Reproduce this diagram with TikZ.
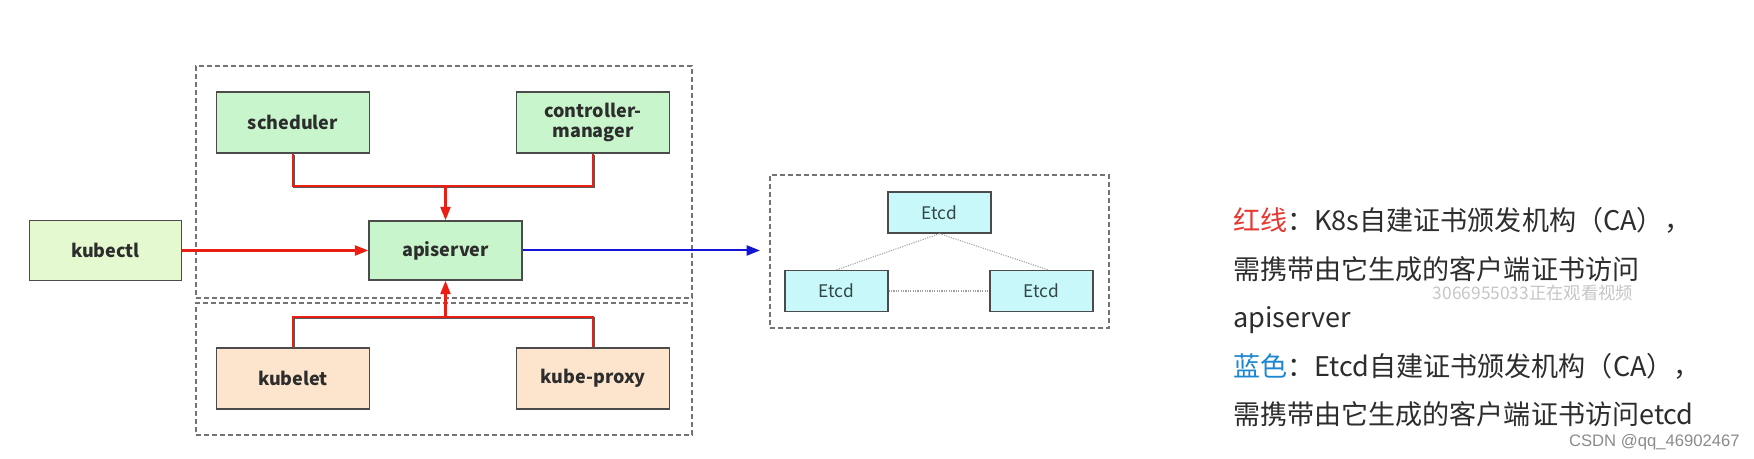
\documentclass[tikz,border=0pt]{standalone}
\usepackage{fontspec}
\setmainfont{Noto Sans CJK SC}
\newfontfamily\csdnfont{Liberation Sans}
\usetikzlibrary{arrows.meta}
\definecolor{gbox}{RGB}{200,245,203}
\definecolor{kbox}{RGB}{228,249,207}
\definecolor{pbox}{RGB}{253,229,205}
\definecolor{cbox}{RGB}{200,248,250}
\definecolor{boxline}{RGB}{75,75,75}
\definecolor{grpline}{RGB}{115,115,115}
\definecolor{txt}{RGB}{45,45,45}
\definecolor{redl}{RGB}{235,30,20}
\definecolor{bluel}{RGB}{20,20,215}
\definecolor{redt}{RGB}{230,55,50}
\definecolor{bluet}{RGB}{30,135,210}
\definecolor{etxt}{RGB}{50,70,70}
\begin{document}
\begin{tikzpicture}[x=0.75pt,y=-0.75pt,
  comp/.style={draw=boxline, line width=1.1pt, inner sep=0pt, text=txt,
    font=\bfseries\fontsize{13.5pt}{15pt}\selectfont, align=center,
    minimum width=114.75pt, minimum height=45.75pt},
  etcdbox/.style={draw=boxline, line width=1pt, inner sep=0pt, fill=cbox, text=etxt,
    font=\fontsize{13pt}{15pt}\selectfont, minimum height=30.75pt},
  grp/.style={draw=grpline, line width=1pt, dash pattern=on 3.5pt off 2.5pt, inner sep=0pt},
  redline/.style={draw=redl, line width=1.6pt},
  shadowed/.style={preaction={draw=black!65, line width=1.2pt, transform canvas={shift={(0.7pt,-0.7pt)}}}},
  blueline/.style={draw=bluel, line width=1.5pt},
  tip/.style={-{Triangle[length=10pt,width=7.5pt]}},
  dotl/.style={draw=gray!75, line width=0.8pt, densely dotted},
  note/.style={anchor=west, inner sep=0pt, text=txt, font=\fontsize{20.3pt}{24pt}\selectfont,
    text height=0.85em, text depth=0.1em}
]
\useasboundingbox[fill=white] (0,0) rectangle (1754,459);

% groups
\node[grp, minimum width=372pt, minimum height=174pt] (gtop) at (444,182) {};
\node[grp, minimum width=372pt, minimum height=99pt] (gbot) at (444,369) {};
\node[grp, minimum width=254.25pt, minimum height=114.75pt] (getcd) at (939.5,251.5) {};

% components
\node[comp, fill=gbox] (sch) at (293,122.5) {scheduler};
\node[comp, fill=gbox] (cm) at (593,122.5) {controller-\\manager};
\node[comp, fill=gbox, minimum height=44.25pt] (api) at (445.5,250.5) {apiserver};
\node[comp, fill=kbox, minimum width=114pt, minimum height=45pt] (kctl) at (105.5,250.5) {kubectl};
\node[comp, fill=pbox] (klet) at (293,378.5) {kubelet};
\node[comp, fill=pbox] (kp) at (593,378.5) {kube-proxy};

% etcd
\node[etcdbox, minimum width=77.25pt] (e1) at (939.5,212.5) {Etcd};
\node[etcdbox, minimum width=77.25pt] (e2) at (836.5,291) {Etcd};
\node[etcdbox, minimum width=77.25pt] (e3) at (1041.5,291) {Etcd};

% connectors
\coordinate (bt) at (445.5,186);
\coordinate (bb) at (445.5,317);
\coordinate (bend) at (760,250.5);
\draw[redline, shadowed] (sch.south) |- (bt) -| (cm.south);
\draw[redline, tip, fill=redl] (bt) -- (api.north);
\draw[redline, shadowed] (klet.north) |- (bb) -| (kp.north);
\draw[redline, tip, fill=redl] (bb) -- (api.south);
\draw[redline, tip, fill=redl] (kctl.east) -- (api.west);
\draw[blueline, tip, fill=bluel] (api.east) -- (bend);
\draw[dotl] (e1.south) -- (e2.north);
\draw[dotl] (e1.south) -- ([xshift=5pt]e3.north);
\draw[dotl] (e2.east) -- (e3.west);

% notes
\node[note] (l1) at (1233,226) {{\color{redt}红线}：K8s自建证书颁发机构（CA），};
\node[note] (l2) at (1233,274.5) {需携带由它生成的客户端证书访问};
\node[note] (l3) at (1233,323) {apiserver};
\node[note] (l4) at (1233,371.5) {{\color{bluet}蓝色}：Etcd自建证书颁发机构（CA），};
\node[note] (l5) at (1233,420) {需携带由它生成的客户端证书访问etcd};
\node[inner sep=0pt, text=gray!45, font=\fontsize{13pt}{14pt}\selectfont] (wm) at (1533,293) {3066955033正在观看视频};
\node[anchor=east, inner sep=0pt, text=gray!90, font=\csdnfont\fontsize{12.5pt}{14pt}\selectfont] (csdn) at (1740,442) {CSDN @qq\_46902467};
\end{tikzpicture}
\end{document}
